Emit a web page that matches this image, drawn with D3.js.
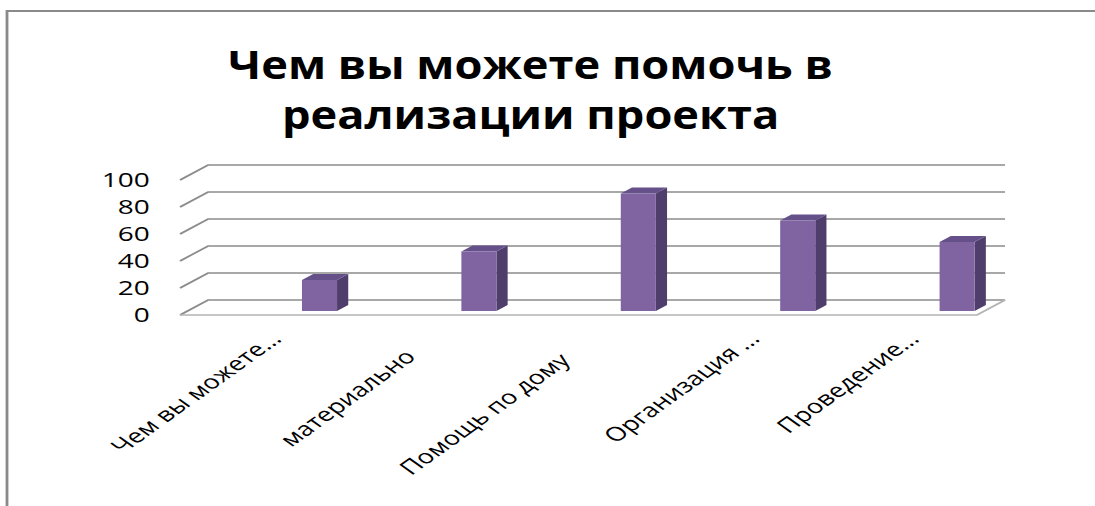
<!DOCTYPE html>
<html>
<head>
<meta charset="utf-8">
<script src="https://cdn.jsdelivr.net/npm/d3@7"></script>
<style>
  body { margin: 0; background: #fff; }
  text { font-family: 'Open Sans', 'Noto Sans', sans-serif; fill: #000; }
</style>
</head>
<body>
<svg id="chart"></svg>
<script>
const categories = ['Чем вы можете...', 'материально     ', 'Помощь по дому      ', 'Организация ...', 'Проведение...'];
const values = [23, 44, 87, 67, 51];
const yTicks = [0, 20, 40, 60, 80, 100];
const titleLines = ['Чем вы можете помочь в', 'реализации проекта'];

const width = 1095, height = 506;
const k = 1.4; // the picture is stretched sideways, draw in narrower units
const W = width / k;

const svg = d3.select('#chart')
    .attr('width', width)
    .attr('height', height)
    .attr('viewBox', `0 0 ${W} ${height}`)
    .attr('preserveAspectRatio', 'none');

// outer frame (only left and top edges are in view)
svg.append('path')
    .attr('d', `M5,${height + 10}V11H${W + 10}`)
    .attr('fill', 'none')
    .attr('stroke', '#8a8a8a')
    .attr('stroke-width', 2);

const floor = { left: 128.6, right: 697.9 };
const depth = { dx: 20, dy: -15 };
const x = d3.scaleBand().domain(categories).range([floor.left, floor.right]);
const y = d3.scaleLinear().domain([0, 100]).range([300, 165]); // on back wall
// front x, value, depth fraction (0 front .. 1 back)
const proj = (xf, v, f) => [xf + depth.dx * f, y(v) - depth.dy * (1 - f)];
const pt = p => p.join(',');

// gridlines: side wall diagonal + back wall line
const grid = svg.append('g')
    .attr('fill', 'none')
    .attr('stroke', '#8c8c8c')
    .attr('stroke-width', 1.6);
yTicks.forEach(t => {
    grid.append('path')
        .attr('d', `M${pt(proj(floor.left, t, 0))}L${pt(proj(floor.left, t, 1))}L${pt(proj(floor.right, t, 1))}`);
});
// floor front and right edges
grid.append('path')
    .attr('stroke', '#b4b4b4')
    .attr('d', `M${pt(proj(floor.left, 0, 0))}L${pt(proj(floor.right, 0, 0))}L${pt(proj(floor.right, 0, 1))}`);

// y tick labels
svg.append('g').selectAll('text')
    .data(yTicks)
    .join('text')
    .attr('x', 107)
    .attr('y', d => proj(floor.left, d, 0)[1])
    .attr('dy', '0.36em')
    .attr('text-anchor', 'end')
    .attr('font-size', 20)
    .text(d => d);

// bars
const bw = x.bandwidth();
const barW = bw * 0.22;
const f0 = 0.27, f1 = 0.67;
const bars = svg.append('g').selectAll('g')
    .data(categories.map((c, i) => ({ c, v: values[i] })))
    .join('g');
bars.append('polygon') // side
    .attr('fill', '#4f3d6b')
    .attr('points', d => {
        const xr = x(d.c) + bw * 0.7175 + barW;
        return [proj(xr, 0, f0), proj(xr, 0, f1), proj(xr, d.v, f1), proj(xr, d.v, f0)].map(pt).join(' ');
    });
bars.append('polygon') // top
    .attr('fill', '#65508a')
    .attr('points', d => {
        const xl = x(d.c) + bw * 0.7175;
        return [proj(xl, d.v, f0), proj(xl + barW, d.v, f0), proj(xl + barW, d.v, f1), proj(xl, d.v, f1)].map(pt).join(' ');
    });
bars.append('polygon') // front
    .attr('fill', '#8064a2')
    .attr('points', d => {
        const xl = x(d.c) + bw * 0.7175;
        return [proj(xl, 0, f0), proj(xl + barW, 0, f0), proj(xl + barW, d.v, f0), proj(xl, d.v, f0)].map(pt).join(' ');
    });

// category labels
svg.append('g').selectAll('text')
    .data(categories)
    .join('text')
    .attr('transform', d => `translate(${x(d) + bw * 0.645},340) rotate(-45)`)
    .attr('text-anchor', 'end')
    .attr('font-size', 19.5)
    .style('white-space', 'pre')
    .text(d => d);

// title, squeezed sideways to the width of the original
const title = svg.append('g')
    .attr('text-anchor', 'middle')
    .attr('font-size', 39)
    .attr('font-weight', 'bold');
const tLines = title.selectAll('text')
    .data(titleLines)
    .join('text')
    .attr('x', 0)
    .attr('y', (d, i) => 79 + i * 50)
    .text(d => d);
const firstLen = tLines.node().getComputedTextLength();
title.attr('transform', `translate(379,0) scale(${432 / firstLen},1)`);
</script>
</body>
</html>
